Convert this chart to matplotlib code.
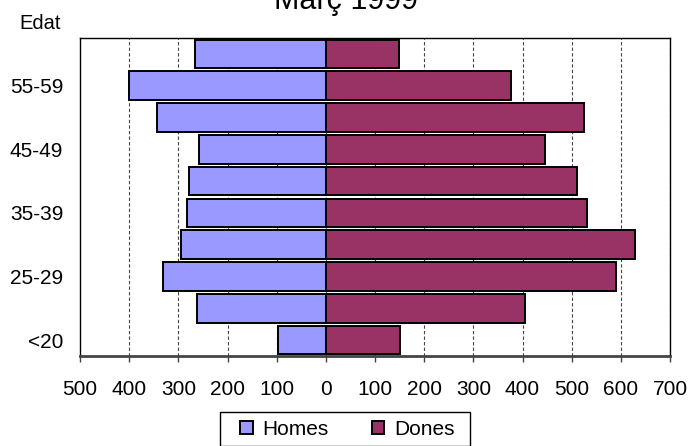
import numpy as np
import matplotlib.pyplot as plt
from matplotlib.ticker import FuncFormatter
from matplotlib.patches import Rectangle

plt.rcParams['font.family'] = ['Liberation Sans', 'DejaVu Sans']

# grups d'edat (de baix a dalt)
grups = ['<20', '20-24', '25-29', '30-34', '35-39', '40-44', '45-49', '50-54', '55-59', '60+']
homes = [97, 263, 331, 295, 282, 278, 258, 343, 401, 267]
dones = [151, 405, 591, 629, 531, 510, 445, 526, 376, 148]
etiquetes = ['<20', '', '25-29', '', '35-39', '', '45-49', '', '55-59', '']

color_homes = '#9999FF'
color_dones = '#993366'

W, H = 691, 446
fig = plt.figure(figsize=(W / 100, H / 100), dpi=100)
ax = fig.add_axes([80 / W, 1 - 356 / H, 590 / W, 318 / H])

y = np.arange(len(grups))
ax.barh(y, -np.array(homes), height=0.9, color=color_homes, edgecolor='black', linewidth=1.4, zorder=3, label='Homes')
ax.barh(y, dones, height=0.9, color=color_dones, edgecolor='black', linewidth=1.4, zorder=3, label='Dones')

ax.set_xlim(-500, 700)
ax.set_ylim(-0.5, 9.5)
ax.set_xticks(np.arange(-500, 701, 100))
ax.xaxis.set_major_formatter(FuncFormatter(lambda v, p: '%d' % abs(v)))
ax.set_yticks(y)
ax.set_yticklabels(etiquetes)

# graella vertical discontinua
for xv in np.arange(-400, 701, 100):
    ax.axvline(xv, color='#444444', linestyle=(0, (3, 2)), linewidth=0.8, zorder=1)

ax.tick_params(axis='x', direction='out', length=4, width=1, color='#444444', labelsize=15, pad=13)
ax.tick_params(axis='y', length=0, labelsize=15, pad=12)
for s in ['top', 'right', 'left']:
    ax.spines[s].set_color('black')
    ax.spines[s].set_linewidth(1)
ax.spines['bottom'].set_color('#444444')
ax.spines['bottom'].set_linewidth(2)

fig.text(0.5, 1 - 9 / H, 'Març 1999', ha='center', va='baseline', fontsize=22)
fig.text(19 / W, 1 - 29 / H, 'Edat', ha='left', va='baseline', fontsize=14.5)

# llegenda amb marc propi
fig.patches.append(Rectangle((220 / W, 0), 250 / W, 1 - 412 / H, transform=fig.transFigure,
                             fill=False, edgecolor='black', linewidth=1))
leg = fig.legend(loc='upper left', bbox_to_anchor=(240 / W, 1 - 420 / H), ncol=2,
                 fontsize=15, frameon=False, borderpad=0, borderaxespad=0,
                 handlelength=0.6, handleheight=0.6, columnspacing=2.1, handletextpad=0.45)

fig.savefig('out.png', dpi=100)
